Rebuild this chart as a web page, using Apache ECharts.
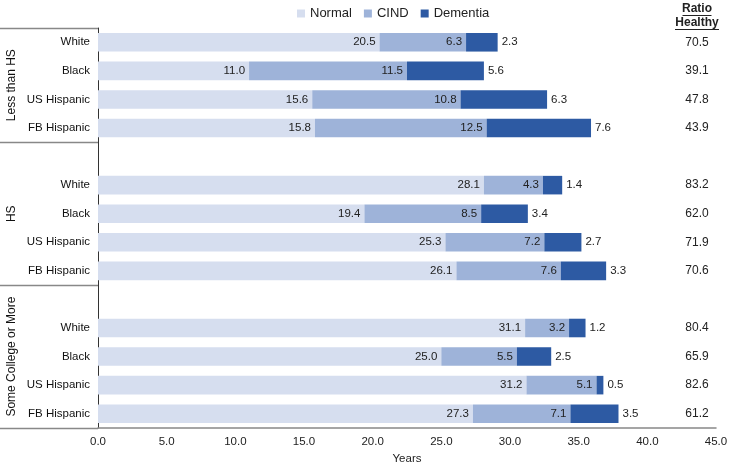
<!DOCTYPE html>
<html>
<head>
<meta charset="utf-8">
<script src="https://cdn.jsdelivr.net/npm/echarts@6/dist/echarts.min.js"></script>
<style>
  html, body { margin: 0; padding: 0; background: #fff; }
  #chart { width: 729px; height: 463px; }
</style>
</head>
<body>
<div id="chart"></div>
<script>
// rows top to bottom, '' = spacer row between education groups
var categories = ['White', 'Black', 'US Hispanic', 'FB Hispanic', '',
  'White', 'Black', 'US Hispanic', 'FB Hispanic', '',
  'White', 'Black', 'US Hispanic', 'FB Hispanic']
var normal = [20.5, 11.0, 15.6, 15.8, null, 28.1, 19.4, 25.3, 26.1, null, 31.1, 25.0, 31.2, 27.3]
var cind = [6.3, 11.5, 10.8, 12.5, null, 4.3, 8.5, 7.2, 7.6, null, 3.2, 5.5, 5.1, 7.1]
var dementia = [2.3, 5.6, 6.3, 7.6, null, 1.4, 3.4, 2.7, 3.3, null, 1.2, 2.5, 0.5, 3.5]
var ratioHealthy = ['70.5', '39.1', '47.8', '43.9', '', '83.2', '62.0', '71.9', '70.6', '',
  '80.4', '65.9', '82.6', '61.2']
var groups = [
  { name: 'Less than HS', from: 0, to: 3 },
  { name: 'HS', from: 4, to: 8 },
  { name: 'Some College or More', from: 9, to: 13 }
]

var FONT = '"Liberation Sans", Arial, sans-serif'
var grid = { left: 98, right: 13, top: 28, bottom: 35, outerBoundsMode: 'none', containLabel: false }
var chart = echarts.init(document.getElementById('chart'))

function fmt(p) {
  return p.value == null ? '' : Number(p.value).toFixed(1)
}

function barSeries(name, data, color, pos) {
  return {
    name: name,
    type: 'bar',
    stack: 'total',
    data: data,
    barCategoryGap: '35%',
    itemStyle: { color: color },
    label: {
      show: true,
      position: pos,
      distance: 4,
      formatter: fmt,
      color: '#222',
      fontSize: 11.5,
      fontFamily: FONT
    }
  }
}

var option = {
  animation: false,
  textStyle: { fontFamily: FONT },
  grid: grid,
  legend: {
    top: 2,
    left: 292,
    icon: 'rect',
    itemWidth: 8,
    itemHeight: 8,
    itemGap: 12,
    textStyle: { fontSize: 13, color: '#222', fontFamily: FONT },
    data: ['Normal', 'CIND', 'Dementia']
  },
  xAxis: {
    type: 'value',
    min: 0,
    max: 45,
    interval: 5,
    name: 'Years',
    nameLocation: 'middle',
    nameGap: 23,
    nameTextStyle: { color: '#222', fontSize: 11.5 },
    axisLine: { show: true, lineStyle: { color: '#888', width: 1.5 } },
    axisTick: { show: false },
    splitLine: { show: false },
    axisLabel: {
      color: '#222',
      fontSize: 11.5,
      margin: 8,
      formatter: function (v) { return v.toFixed(1) }
    }
  },
  yAxis: [{
    type: 'category',
    data: categories,
    inverse: true,
    axisLine: { show: true, lineStyle: { color: '#333', width: 1 } },
    axisTick: { show: false },
    axisLabel: { color: '#111', fontSize: 11.5, margin: 8 }
  }, {
    type: 'category',
    data: ratioHealthy,
    inverse: true,
    position: 'right',
    axisLine: { show: false },
    axisTick: { show: false },
    axisLabel: { color: '#222', fontSize: 12, margin: -19, align: 'center' }
  }],
  series: [
    barSeries('Normal', normal, '#D6DEEF', 'insideRight'),
    barSeries('CIND', cind, '#9EB3D9', 'insideRight'),
    barSeries('Dementia', dementia, '#2D5AA3', 'right')
  ]
}
chart.setOption(option)

// group labels, separator lines and the ratio header
var W = 729, H = 463
var plotTop = grid.top, plotH = H - grid.top - grid.bottom
var band = plotH / categories.length
var g = []
var sepColor = '#888'
var bounds = [0]
groups.forEach(function (gr) { bounds.push(gr.to + 1) })
bounds.forEach(function (b) {
  var y = Math.round(plotTop + b * band) + 0.5
  g.push({
    type: 'line',
    shape: { x1: 0, y1: y, x2: grid.left, y2: y },
    style: { stroke: sepColor, lineWidth: 1.5 }
  })
})
groups.forEach(function (gr) {
  var cy = plotTop + (gr.from + gr.to + 1) / 2 * band
  g.push({
    type: 'text',
    x: 12,
    y: cy,
    rotation: Math.PI / 2,
    style: {
      text: gr.name,
      x: 0, y: 0,
      align: 'center',
      verticalAlign: 'middle',
      fill: '#111',
      font: '12px ' + FONT
    }
  })
})
var hx = 697
;[['Ratio', 9, 29], ['Healthy', 23, 44]].forEach(function (h) {
  g.push({
    type: 'text',
    style: {
      text: h[0], x: hx, y: h[1],
      align: 'center', verticalAlign: 'middle',
      fill: '#222', font: 'bold 12px ' + FONT
    }
  })
  g.push({
    type: 'line',
    shape: { x1: hx - h[2] / 2, y1: h[1] + 6.5, x2: hx + h[2] / 2, y2: h[1] + 6.5 },
    style: { stroke: '#222', lineWidth: 1 }
  })
})
chart.setOption({ graphic: g })
</script>
</body>
</html>
